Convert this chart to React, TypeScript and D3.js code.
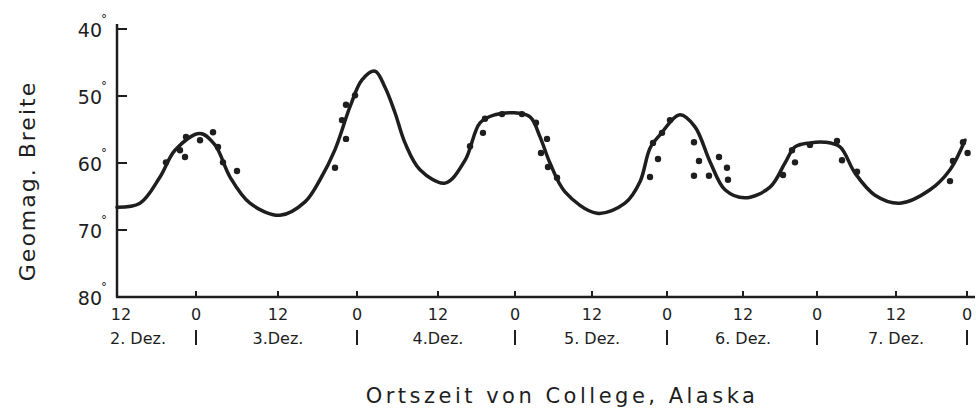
import React from "react";
import * as d3 from "d3";

// Hours since 12h on 2 Dez. (local time, College, Alaska)
const curveHours = [0, 3.49, 6.53, 8.81, 12.59, 14.78, 16.98, 19.9, 24.3, 28.1, 30.38, 32.66, 34.94, 36.74, 38.67, 40.15, 41.63, 43.11, 45.33, 49.09, 52.21, 54.55, 56.88, 59.69, 62.34, 63.9, 65.45, 67.79, 72.8, 77.28, 79.68, 81.28, 82.88, 86.05, 88.42, 90.79, 93.16, 96.32, 100.38, 102.81, 104.43, 106.86, 109.22, 111.49, 113.77, 116.81, 120.68, 125.75, 129.13, 131.66];
const curveLat = [66.6, 66.0, 62.1, 58.1, 55.6, 57.3, 62.1, 66.0, 67.8, 65.8, 62.5, 58.0, 51.6, 47.6, 46.3, 48.7, 52.5, 57.0, 61.0, 63.0, 59.6, 54.0, 52.8, 52.5, 53.1, 56.1, 60.0, 64.3, 67.5, 66.0, 62.8, 57.8, 55.8, 52.8, 54.6, 59.8, 64.0, 65.2, 63.6, 60.0, 57.6, 57.0, 56.9, 57.6, 61.5, 64.8, 66.0, 64.0, 61.0, 56.6];

const obsHours = [7.44, 9.57, 10.33, 10.48, 12.59, 14.49, 15.22, 15.95, 18.0, 32.66, 33.72, 34.33, 34.33, 35.7, 52.99, 55.01, 55.32, 57.97, 61.09, 63.27, 64.99, 64.05, 65.14, 66.55, 81.28, 81.76, 82.56, 83.2, 84.47, 88.26, 89.05, 88.26, 90.63, 92.21, 93.47, 93.63, 102.49, 103.95, 104.43, 106.86, 111.04, 111.8, 114.08, 129.13, 129.63, 131.32, 132.1];
const obsLat = [59.9, 58.1, 59.1, 56.1, 56.6, 55.4, 57.6, 59.9, 61.2, 60.7, 53.6, 56.4, 51.3, 49.9, 57.5, 55.5, 53.4, 52.7, 52.7, 54.0, 56.4, 58.5, 60.6, 62.2, 62.1, 57.0, 59.4, 55.5, 53.6, 56.9, 59.7, 61.9, 61.9, 59.1, 60.7, 62.5, 61.8, 58.1, 59.9, 57.3, 56.7, 59.6, 61.3, 62.7, 59.7, 56.9, 58.5];

const xTickHours = [0, 12, 24, 36, 48, 60, 72, 84, 96, 108, 120, 132];
const xTickLabels = ["12", "0", "12", "0", "12", "0", "12", "0", "12", "0", "12", "0"];
const dayLabels = ["2. Dez.", "3.Dez.", "4.Dez.", "5. Dez.", "6. Dez.", "7. Dez."];
const dayHours = [0, 24, 48, 72, 96, 120];
const dayBreakHours = [12, 36, 60, 84, 108, 132];
const yTicks = [40, 50, 60, 70, 80];

// hand-drawn original: tick spacing on the time axis is slightly irregular
const xTickRange = [117, 196, 278, 357, 438, 515, 592, 667, 743, 817, 896, 967];

const FONT = "'DejaVu Sans', sans-serif";

export default function App() {
  const W = 976, H = 413;
  const x = d3.scaleLinear().domain(xTickHours).range(xTickRange);
  const y = d3.scaleLinear().domain([40, 80]).range([29, 297]);

  const pts: [number, number][] = curveHours.map((h, i) => [h, curveLat[i]]);
  const line = d3
    .line<[number, number]>()
    .x((d) => x(d[0]))
    .y((d) => y(d[1]))
    .curve(d3.curveCatmullRom.alpha(0.5));

  const ink = "#1e1e1e";

  return (
    <svg width={W} height={H} style={{ position: "absolute", left: 0, top: 0, background: "#fff" }} fontFamily={FONT}>
      {/* axes */}
      <line x1={x(0)} x2={x(0)} y1={y(40) - 5} y2={y(80)} stroke={ink} strokeWidth={2.5} />
      <line x1={x(0) - 1} x2={975} y1={y(80)} y2={y(80)} stroke={ink} strokeWidth={2.5} />
      {yTicks.filter((t) => t !== 80).map((t) => (
        <line key={t} x1={x(0)} x2={x(0) + 10} y1={y(t)} y2={y(t)} stroke={ink} strokeWidth={2} />
      ))}
      {yTicks.map((t) => (
        <g key={"yl" + t}>
          <text x={102} y={y(t) + 8} textAnchor="end" fontSize={19} fill={ink}>{t}</text>
          <text x={104} y={y(t) - 6.5} textAnchor="middle" fontSize={12} fill={ink}>°</text>
        </g>
      ))}
      {xTickHours.map((h, i) => (
        <g key={"xt" + i}>
          {i > 0 && <line x1={x(h)} x2={x(h)} y1={y(80)} y2={y(80) - 6} stroke={ink} strokeWidth={2} />}
          <text x={x(h) + (i === 0 ? 4 : 0)} y={y(80) + 23} textAnchor="middle" fontSize={16} fill={ink}>{xTickLabels[i]}</text>
        </g>
      ))}
      {dayLabels.map((d, i) => (
        <text key={d} x={i === 0 ? x(dayHours[i]) - 7 : x(dayHours[i])} y={y(80) + 47} textAnchor={i === 0 ? "start" : "middle"} fontSize={16} fill={ink}>{d}</text>
      ))}
      {dayBreakHours.map((h) => (
        <line key={"db" + h} x1={x(h)} x2={x(h)} y1={y(80) + 33} y2={y(80) + 48} stroke={ink} strokeWidth={2} />
      ))}

      {/* curve */}
      <path d={line(pts) ?? ""} fill="none" stroke={ink} strokeWidth={3.5} strokeLinejoin="round" strokeLinecap="round" />
      {/* observations */}
      {obsHours.map((h, i) => (
        <circle key={"o" + i} cx={x(h)} cy={y(obsLat[i])} r={3.2} fill={ink} />
      ))}

      {/* axis titles */}
      <text transform={`translate(35, 181) rotate(-90)`} textAnchor="middle" fontSize={22} letterSpacing={2} fill={ink}>Geomag. Breite</text>
      <text x={562} y={403} textAnchor="middle" fontSize={21} letterSpacing={3.5} fill={ink}>Ortszeit von College, Alaska</text>
    </svg>
  );
}
